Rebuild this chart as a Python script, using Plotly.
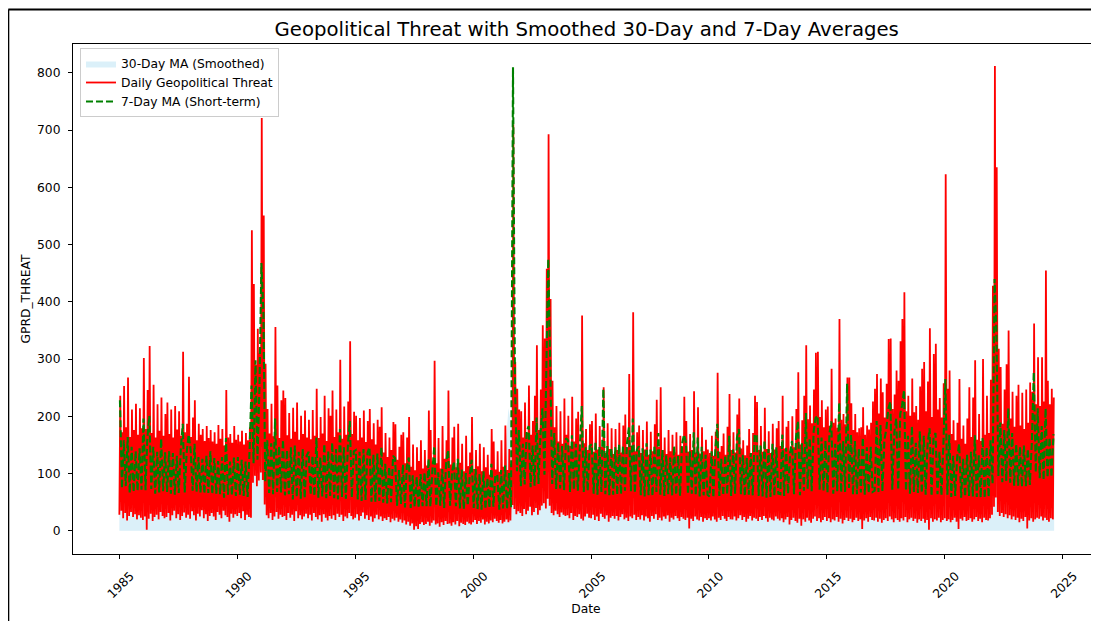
import pandas as pd
import plotly.graph_objects as go

# ---------------- data ----------------
first_month = "1985-01-01"
series_end = "2024-08-20"

# monthly maximum of the daily series, one row per year (1985 .. 2024)
red_hi_by_year = [
    [236, 172, 253, 181, 268, 164, 212, 176, 222, 168, 214, 179],  # 1985
    [302, 178, 246, 323, 171, 255, 163, 221, 175, 233, 166, 204],  # 1986
    [224, 169, 212, 163, 218, 177, 209, 166, 313, 172, 187, 269],  # 1987
    [164, 198, 228, 158, 187, 168, 178, 157, 183, 162, 176, 156],  # 1988
    [172, 152, 185, 161, 178, 149, 246, 163, 169, 154, 183, 159],  # 1989
    [168, 156, 175, 151, 171, 158, 181, 525, 431, 290, 353, 310],  # 1990
    [721, 551, 292, 213, 170, 222, 165, 356, 254, 162, 228, 245],  # 1991
    [232, 167, 206, 161, 215, 173, 224, 159, 201, 169, 210, 163],  # 1992
    [194, 160, 211, 166, 248, 162, 199, 170, 236, 157, 214, 201],  # 1993
    [245, 164, 212, 172, 299, 161, 217, 168, 226, 331, 169, 208],  # 1994
    [201, 158, 197, 163, 210, 155, 192, 213, 160, 188, 151, 194],  # 1995
    [182, 216, 137, 171, 129, 163, 141, 190, 186, 124, 147, 168],  # 1996
    [172, 118, 163, 199, 112, 151, 106, 146, 122, 158, 109, 141],  # 1997
    [114, 210, 176, 121, 297, 118, 162, 109, 183, 126, 158, 245],  # 1998
    [116, 163, 182, 111, 187, 119, 152, 104, 166, 113, 137, 199],  # 1999
    [108, 141, 113, 152, 104, 146, 111, 133, 98, 178, 156, 107],   # 2000
    [139, 103, 158, 112, 184, 106, 143, 117, 710, 295, 248, 212],  # 2001
    [209, 163, 224, 171, 254, 168, 192, 236, 324, 176, 247, 359],  # 2002
    [336, 458, 693, 405, 262, 181, 218, 156, 209, 152, 231, 168],  # 2003
    [201, 148, 234, 156, 196, 208, 144, 376, 153, 178, 141, 186],  # 2004
    [192, 138, 205, 142, 183, 147, 251, 136, 188, 143, 179, 134],  # 2005
    [178, 141, 189, 137, 184, 203, 146, 274, 148, 382, 139, 172],  # 2006
    [184, 136, 176, 142, 191, 133, 173, 139, 186, 229, 147, 251],  # 2007
    [141, 163, 134, 176, 139, 168, 137, 172, 133, 166, 146, 234],  # 2008
    [192, 138, 169, 141, 244, 137, 216, 135, 181, 139, 159, 142],  # 2009
    [136, 166, 131, 173, 276, 138, 148, 170, 133, 182, 239, 141],  # 2010
    [172, 137, 203, 231, 144, 158, 132, 149, 178, 136, 171, 236],  # 2011
    [225, 141, 183, 138, 215, 143, 174, 136, 187, 142, 179, 192],  # 2012
    [148, 236, 144, 182, 192, 139, 200, 146, 213, 277, 151, 193],  # 2013
    [236, 324, 195, 219, 188, 247, 311, 313, 199, 228, 181, 212],  # 2014
    [217, 183, 283, 189, 196, 180, 370, 194, 204, 186, 268, 268],  # 2015
    [223, 176, 204, 172, 179, 181, 216, 168, 184, 177, 189, 226],  # 2016
    [248, 274, 205, 266, 242, 198, 257, 335, 336, 213, 238, 280],  # 2017
    [262, 331, 370, 417, 209, 236, 201, 266, 207, 218, 194, 252],  # 2018
    [283, 295, 209, 261, 354, 199, 309, 327, 212, 232, 198, 258],  # 2019
    [623, 248, 280, 169, 193, 158, 189, 265, 161, 184, 152, 196],  # 2020
    [251, 164, 233, 298, 159, 204, 157, 300, 168, 236, 171, 264],  # 2021
    [428, 812, 635, 318, 286, 187, 247, 291, 350, 196, 243, 182],  # 2022
    [236, 255, 184, 241, 178, 247, 189, 259, 243, 362, 221, 303],  # 2023
    [218, 303, 226, 455, 262, 221, 248, 233],                      # 2024
]

# monthly minimum of the daily series
red_lo_by_year = [
    [28, 35, 22, 31, 18, 26, 33, 24, 29, 20, 27, 23],
    [19, 25, 2, 21, 30, 17, 24, 28, 20, 33, 26, 22],
    [24, 31, 18, 27, 35, 22, 29, 19, 26, 32, 23, 28],
    [21, 34, 27, 18, 30, 25, 36, 22, 29, 17, 26, 31],
    [25, 19, 33, 28, 22, 35, 27, 24, 16, 30, 23, 29],
    [26, 31, 22, 34, 19, 28, 24, 23, 84, 96, 78, 88],
    [102, 89, 46, 27, 22, 31, 19, 25, 33, 21, 28, 24],
    [26, 19, 31, 23, 28, 17, 34, 22, 27, 20, 25, 30],
    [22, 28, 18, 31, 24, 20, 27, 16, 29, 23, 18, 26],
    [21, 27, 19, 30, 24, 28, 17, 25, 22, 31, 26, 20],
    [23, 29, 18, 26, 32, 21, 27, 19, 25, 16, 22, 28],
    [20, 25, 17, 22, 19, 24, 15, 21, 18, 23, 16, 20],
    [14, 18, 11, 16, 9, 13, 2, 8, 3, 12, 15, 10],
    [12, 16, 9, 14, 18, 11, 13, 7, 15, 10, 17, 12],
    [13, 9, 15, 11, 17, 8, 14, 12, 10, 16, 13, 11],
    [15, 19, 12, 17, 14, 20, 11, 16, 13, 18, 15, 21],
    [17, 14, 19, 13, 16, 20, 15, 18, 45, 38, 29, 34],
    [31, 26, 38, 29, 35, 42, 27, 33, 40, 28, 36, 44],
    [48, 39, 56, 44, 31, 27, 35, 29, 24, 32, 28, 26],
    [27, 22, 31, 19, 26, 24, 29, 21, 18, 25, 30, 23],
    [22, 28, 19, 25, 17, 30, 24, 21, 27, 16, 23, 26],
    [21, 26, 18, 24, 29, 20, 23, 17, 25, 22, 28, 19],
    [24, 20, 27, 18, 25, 22, 16, 26, 21, 29, 19, 23],
    [18, 25, 21, 27, 16, 23, 20, 26, 22, 17, 24, 21],
    [19, 23, 4, 21, 17, 25, 20, 18, 24, 16, 22, 19],
    [22, 18, 25, 20, 16, 23, 19, 26, 21, 17, 24, 20],
    [20, 25, 18, 22, 27, 19, 24, 16, 21, 26, 18, 23],
    [21, 17, 24, 19, 26, 22, 16, 23, 20, 18, 25, 21],
    [18, 22, 15, 20, 24, 11, 19, 23, 17, 14, 21, 9],
    [20, 16, 23, 18, 14, 21, 25, 17, 22, 15, 19, 24],
    [17, 22, 15, 20, 18, 24, 16, 21, 13, 19, 23, 17],
    [21, 15, 19, 23, 17, 20, 3, 18, 22, 16, 24, 19],
    [18, 23, 16, 21, 14, 19, 22, 17, 25, 20, 15, 22],
    [19, 16, 22, 18, 24, 15, 20, 23, 17, 21, 14, 20],
    [17, 21, 14, 19, 2, 22, 16, 20, 18, 23, 15, 19],
    [22, 17, 20, 15, 19, 23, 16, 3, 21, 18, 24, 17],
    [19, 22, 16, 20, 24, 17, 21, 15, 23, 19, 18, 22],
    [28, 42, 58, 33, 26, 31, 24, 29, 22, 27, 20, 25],
    [19, 23, 15, 21, 17, 24, 4, 18, 22, 16, 20, 23],
    [21, 25, 18, 23, 19, 16, 22, 20],
]

# 7-day moving average, one reading per month
green_ma7_by_year = [
    [228, 74, 158, 78, 164, 66, 147, 68, 139, 70, 144, 72],    # 1985
    [196, 71, 162, 201, 73, 147, 65, 138, 67, 161, 69, 137],   # 1986
    [68, 139, 65, 136, 63, 131, 66, 142, 187, 67, 138, 168],   # 1987
    [141, 70, 152, 68, 129, 67, 126, 65, 131, 66, 139, 64],    # 1988
    [127, 65, 122, 64, 129, 58, 162, 63, 121, 62, 128, 61],    # 1989
    [129, 63, 124, 61, 121, 59, 138, 254, 118, 298, 124, 247], # 1990
    [468, 381, 86, 158, 66, 153, 64, 196, 68, 148, 67, 159],   # 1991
    [62, 141, 64, 146, 55, 149, 59, 138, 56, 143, 57, 131],    # 1992
    [138, 63, 131, 61, 163, 58, 128, 60, 152, 57, 139, 61],    # 1993
    [154, 57, 143, 55, 178, 59, 146, 56, 149, 192, 58, 139],   # 1994
    [141, 55, 138, 52, 143, 54, 136, 146, 51, 133, 50, 135],   # 1995
    [52, 146, 49, 117, 48, 112, 50, 131, 127, 44, 106, 47],    # 1996
    [116, 41, 112, 128, 40, 97, 42, 94, 40, 99, 43, 102],      # 1997
    [43, 126, 42, 104, 148, 43, 102, 44, 108, 40, 119, 141],   # 1998
    [44, 103, 121, 43, 126, 39, 107, 38, 101, 44, 98, 124],    # 1999
    [40, 108, 38, 99, 37, 104, 38, 92, 40, 117, 42, 97],       # 2000
    [98, 37, 106, 39, 114, 38, 101, 41, 810, 262, 104, 176],   # 2001
    [78, 152, 81, 174, 183, 76, 149, 79, 198, 82, 172, 214],   # 2002
    [98, 291, 475, 286, 82, 171, 73, 154, 74, 148, 71, 162],   # 2003
    [158, 68, 167, 72, 152, 70, 144, 218, 68, 146, 70, 148],   # 2004
    [151, 65, 156, 63, 147, 68, 248, 64, 148, 62, 144, 63],    # 2005
    [146, 63, 151, 64, 149, 70, 152, 181, 69, 196, 66, 141],   # 2006
    [148, 62, 144, 60, 153, 62, 142, 61, 149, 68, 171, 63],    # 2007
    [141, 61, 132, 64, 128, 62, 148, 63, 131, 61, 152, 168],   # 2008
    [154, 64, 139, 65, 172, 62, 163, 60, 147, 62, 133, 63],    # 2009
    [60, 139, 58, 143, 187, 61, 126, 62, 132, 64, 166, 61],    # 2010
    [142, 65, 163, 178, 64, 133, 61, 127, 63, 136, 62, 169],   # 2011
    [166, 61, 149, 60, 158, 58, 143, 59, 152, 61, 146, 65],    # 2012
    [64, 168, 61, 145, 65, 136, 157, 64, 163, 192, 62, 153],   # 2013
    [70, 206, 73, 162, 69, 174, 197, 201, 72, 163, 70, 158],   # 2014
    [67, 171, 191, 65, 152, 69, 224, 67, 157, 68, 257, 75],    # 2015
    [168, 63, 157, 64, 143, 67, 163, 63, 146, 66, 147, 68],    # 2016
    [70, 192, 68, 185, 69, 159, 178, 214, 226, 72, 172, 196],  # 2017
    [72, 204, 219, 246, 70, 166, 65, 183, 68, 154, 66, 174],   # 2018
    [66, 166, 63, 152, 179, 61, 163, 171, 64, 138, 62, 151],   # 2019
    [265, 63, 168, 59, 131, 61, 128, 152, 58, 126, 60, 133],   # 2020
    [61, 138, 60, 167, 59, 132, 58, 163, 57, 146, 59, 158],    # 2021
    [82, 440, 352, 96, 189, 85, 176, 87, 214, 84, 171, 79],    # 2022
    [152, 79, 147, 77, 149, 78, 143, 80, 154, 277, 102, 214],  # 2023
    [92, 183, 89, 214, 93, 163, 94, 169],                      # 2024
]

# quarterly level of the 30-day moving average
ma30_by_year = [
    [112, 104, 98, 101], [108, 115, 99, 96], [97, 94, 103, 106], [99, 92, 90, 88],
    [87, 85, 95, 89], [88, 86, 168, 182], [265, 104, 112, 99], [101, 96, 93, 95],
    [94, 102, 97, 99], [103, 109, 98, 112], [96, 91, 94, 88], [93, 82, 85, 76],
    [74, 71, 66, 68], [73, 84, 71, 82], [72, 74, 66, 73], [65, 63, 64, 68],
    [62, 64, 214, 152], [128, 131, 136, 142], [176, 158, 112, 106], [108, 104, 121, 102],
    [99, 96, 104, 93], [97, 101, 109, 103], [96, 94, 97, 105], [93, 92, 98, 104],
    [101, 106, 99, 94], [91, 104, 92, 99], [106, 102, 95, 103], [104, 98, 101, 99],
    [103, 97, 102, 108], [118, 115, 124, 112], [113, 109, 121, 124], [108, 103, 104, 106],
    [117, 113, 128, 119], [126, 112, 107, 104], [111, 117, 114, 103], [128, 96, 99, 92],
    [97, 102, 98, 105], [198, 134, 119, 112], [109, 111, 114, 138], [136, 128, 124],
]

tick_years = list(range(1985, 2026, 5))
y_ticks = list(range(0, 801, 100))

# ---------------- build traces ----------------
def flat(rows):
    return [v for r in rows for v in r]

red_hi = flat(red_hi_by_year)
red_lo = flat(red_lo_by_year)
green_ma7 = flat(green_ma7_by_year)
ma30 = flat(ma30_by_year)

months = pd.date_range(first_month, periods=len(red_hi), freq="MS")
quarters = list(pd.date_range(first_month, periods=len(ma30), freq="QS"))

red_x, red_y = [], []
for m, lo, hi in zip(months, red_lo, red_hi):
    red_x += [m, m + pd.Timedelta(days=14)]
    red_y += [lo, hi]

green_x = [m + pd.Timedelta(days=9) for m in months]

ma_x = quarters + [pd.Timestamp(series_end)]
ma_y = ma30 + [ma30[-1]]

fig = go.Figure()
fig.add_trace(go.Scatter(
    x=ma_x, y=ma_y, mode="lines", fill="tozeroy",
    fillcolor="rgba(135,206,235,0.3)", line=dict(width=0, color="rgba(135,206,235,0.3)"),
    name="30-Day MA (Smoothed)"))
fig.add_trace(go.Scatter(
    x=red_x, y=red_y, mode="lines",
    line=dict(color="red", width=1.8, simplify=False),
    name="Daily Geopolitical Threat"))
fig.add_trace(go.Scatter(
    x=green_x, y=green_ma7, mode="lines",
    line=dict(color="green", width=2.1, dash="7px,3px", simplify=False),
    name="7-Day MA (Short-term)"))

# page is offset by the 8px body margin; work in page pixels and convert
OFF = 8
FIG_W, FIG_H = 1099 - OFF, 621 - OFF
L, T, W, H = 73 - OFF, 44 - OFF, 1026, 510
def px_x(p): return (p - OFF - L) / W
def px_y(p): return (T + H - (p - OFF)) / H

# outer black frame of the original figure
fig.add_shape(type="line", xref="paper", yref="paper",
              x0=px_x(8.3), x1=px_x(1120), y0=px_y(9.5), y1=px_y(9.5),
              line=dict(color="black", width=2))
fig.add_shape(type="line", xref="paper", yref="paper",
              x0=px_x(8.3), x1=px_x(8.3), y0=px_y(9.5), y1=px_y(640),
              line=dict(color="black", width=2))

fig.update_layout(
    width=FIG_W, height=FIG_H,
    margin=dict(l=L, r=0, t=T, b=FIG_H - T - H, pad=0),
    paper_bgcolor="white", plot_bgcolor="white",
    font=dict(family="DejaVu Sans", size=12.3, color="black"),
    title=dict(text="Geopolitical Threat with Smoothed 30-Day and 7-Day Averages",
               x=px_x(586.7), xref="paper", xanchor="center",
               y=1 - (29.5 - OFF) / FIG_H, yref="container", yanchor="middle",
               font=dict(size=19.7, color="black")),
    legend=dict(x=px_x(80), y=px_y(48), xanchor="left", yanchor="top",
                bgcolor="rgba(255,255,255,0.8)", bordercolor="#cccccc", borderwidth=1,
                font=dict(size=12.3), tracegroupgap=0),
    showlegend=True,
)
fig.update_xaxes(
    type="date", range=["1983-01-14", "2026-07-16"],
    tickvals=[f"{y}-01-01" for y in tick_years], ticktext=[str(y) for y in tick_years],
    tickangle=-45, ticklabelshift=11, ticklabelstandoff=5,
    ticks="outside", ticklen=4, tickwidth=1, tickcolor="black",
    showline=True, linecolor="black", linewidth=1, mirror=True,
    showgrid=False, zeroline=False,
    title=dict(text="Date", standoff=4, font=dict(size=12.3)))
fig.update_yaxes(
    range=[-40.5, 850.5], tickvals=y_ticks, ticktext=[str(v) for v in y_ticks],
    ticklabelstandoff=5,
    ticks="outside", ticklen=4, tickwidth=1, tickcolor="black",
    showline=True, linecolor="black", linewidth=1, mirror=False,
    showgrid=False, zeroline=False,
    title=dict(text="GPRD_THREAT", standoff=3, font=dict(size=12.3)))

fig.write_html("out.html")
